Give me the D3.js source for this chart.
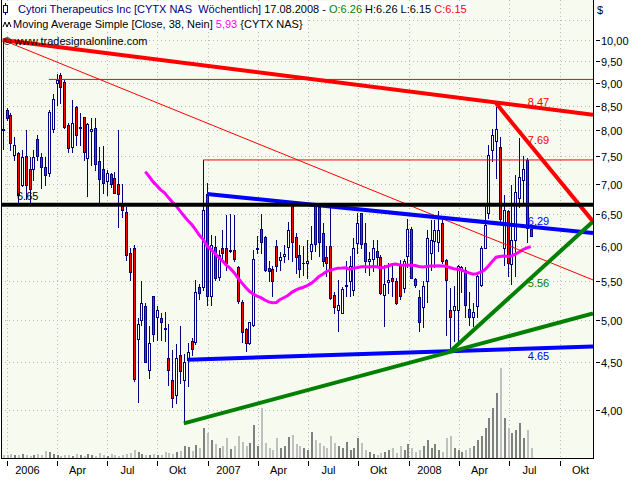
<!DOCTYPE html>
<html><head><meta charset="utf-8">
<script src="https://cdn.jsdelivr.net/npm/d3@7"></script>
<style>
body{margin:0;background:#fff}
svg{display:block}
text{font-family:"Liberation Sans",Arial,sans-serif;font-size:11px;white-space:pre}
</style>
</head><body>
<svg id="c" width="640" height="480"></svg>
<script>
// ---------------- data ----------------
const firstBarDate = "2005-12-24";   // weekly bars, one per week
const opens = [8.02,8.41,8.31,7.52,7.55,6.98,7.50,7.27,7.27,7.83,7.48,7.30,7.20,8.02,9.00,9.17,9.02,8.10,7.68,8.47,
8.05,8.26,7.47,7.98,8.04,7.41,7.27,7.05,7.18,7.10,7.00,6.65,6.53,5.90,5.98,4.77,5.00,5.17,4.42,5.31,
5.04,5.02,4.90,4.55,4.31,4.15,4.58,4.31,4.53,4.74,4.73,5.43,5.42,6.83,5.30,5.99,5.56,5.97,5.97,5.93,
5.95,5.70,5.23,4.89,4.72,4.94,5.96,6.26,6.14,5.69,5.67,6.00,5.80,5.85,5.99,6.66,6.14,5.87,5.75,5.75,
5.93,6.66,6.62,6.20,5.84,6.00,5.32,5.12,5.09,5.44,5.50,5.39,6.05,6.51,6.05,5.79,5.82,5.93,5.84,5.32,
5.49,5.55,5.50,5.73,5.41,5.85,6.26,5.53,5.29,5.16,5.51,5.90,6.08,6.06,6.36,5.80,5.12,5.12,5.12,5.66,
5.66,5.14,5.04,5.17,5.45,5.98,6.51,7.62,7.78,7.68,5.97,6.54,5.74,6.10,6.76,7.07,7.43,6.26];
const highs = [10.00,8.45,8.35,7.87,7.57,7.62,8.00,7.48,7.62,7.90,7.55,7.48,8.41,8.75,9.20,9.22,9.06,8.14,8.62,8.49,
8.35,8.27,8.14,8.24,8.24,7.68,7.69,7.25,7.20,7.21,8.00,7.00,6.61,5.98,6.02,5.02,5.50,5.22,4.92,5.31,
5.18,5.08,5.10,4.95,4.64,4.71,4.92,4.59,4.72,4.78,5.52,5.47,7.43,7.02,6.17,6.16,5.95,6.25,6.48,6.50,
6.48,5.71,5.25,4.90,4.97,5.95,6.16,6.50,6.16,5.79,5.72,6.09,5.91,6.02,6.37,6.66,6.20,6.02,6.00,6.10,
6.31,6.66,6.64,6.35,6.00,6.59,5.36,5.52,5.42,5.78,5.86,6.13,6.52,6.52,6.35,5.92,6.09,6.09,5.87,5.73,
5.75,5.75,5.55,5.80,5.82,6.42,6.30,5.55,5.39,5.51,6.25,6.40,6.40,6.55,6.40,5.82,5.41,5.44,5.73,5.72,
5.70,5.36,5.22,5.60,6.00,6.65,7.71,8.03,8.47,7.87,6.81,6.57,6.98,7.16,7.84,7.50,7.46,6.26];
const lows = [7.63,8.20,7.62,7.43,6.70,6.96,6.75,6.70,7.07,7.43,6.93,6.98,7.14,7.96,8.51,8.55,8.04,7.58,7.58,7.71,
7.71,7.43,6.79,7.34,7.25,6.68,6.85,6.81,6.95,6.84,6.30,6.45,5.80,5.52,4.30,4.08,4.94,4.50,4.33,4.74,
4.76,4.76,4.75,4.26,4.03,4.07,4.28,3.87,4.24,4.58,4.71,5.27,5.38,5.19,5.19,5.52,5.52,5.78,5.66,5.92,
5.78,5.22,4.73,4.63,4.71,4.92,5.90,5.90,5.64,5.50,5.31,5.64,5.66,5.77,5.82,5.79,5.62,5.56,5.59,5.55,
5.82,5.93,5.85,5.72,5.57,5.27,5.08,4.86,5.08,5.30,5.30,5.32,5.90,5.98,5.63,5.59,5.64,5.72,5.33,4.93,
5.35,5.30,5.20,5.27,5.36,5.70,5.54,5.42,4.86,4.91,5.23,5.66,5.70,5.93,5.75,4.82,4.64,4.75,4.74,5.36,
5.04,4.94,4.92,5.04,5.44,5.97,6.43,7.41,7.10,6.36,5.73,5.57,5.46,5.57,6.62,6.65,6.06,6.15];
const closes = [8.00,8.24,7.75,7.71,6.81,7.48,6.98,6.92,7.48,7.50,7.30,7.16,8.37,8.64,9.05,8.91,8.06,7.66,8.14,7.90,
8.06,7.58,8.12,8.02,7.36,7.09,7.02,7.20,7.00,6.85,6.83,6.57,5.87,5.63,4.32,4.95,5.22,4.51,4.72,4.83,
5.12,4.97,4.89,4.42,4.12,4.55,4.41,4.50,4.62,4.65,5.36,5.34,6.57,5.30,6.02,5.55,5.87,5.90,5.75,5.95,
5.82,5.24,4.85,4.72,4.97,5.82,5.97,6.06,5.66,5.64,5.50,5.71,5.84,5.89,6.24,6.07,5.84,5.67,5.76,5.78,
6.03,6.03,6.07,5.79,5.76,5.28,5.16,5.19,5.40,5.45,5.72,5.98,6.35,6.04,5.79,5.82,5.97,5.84,5.35,5.47,
5.52,5.50,5.21,5.31,5.79,6.26,5.55,5.45,4.97,5.44,6.12,6.10,6.24,6.24,5.78,5.52,5.04,5.17,5.71,5.70,
5.19,5.04,5.10,5.57,5.98,6.33,7.52,7.91,8.03,6.42,6.57,5.75,6.10,6.86,7.13,7.27,6.28,6.15];
const volumes = [30,30,40,30,30,40,30,20,30,40,30,70,60,40,30,20,30,30,20,40,
30,20,40,30,20,50,30,20,40,30,20,30,40,50,80,60,40,30,30,40,
30,30,60,50,40,60,70,120,110,70,130,100,300,250,180,140,100,120,200,90,
120,220,160,120,150,330,120,500,150,100,80,200,100,120,210,230,140,120,100,80,
260,180,150,120,100,220,150,120,100,160,80,100,200,150,80,60,40,30,50,60,
80,100,50,120,80,140,100,60,80,120,180,100,140,80,60,200,220,100,80,60,
80,100,120,180,220,300,400,500,650,900,400,300,250,280,350,200,280,100];

const priceTicks = [4,4.5,5,5.5,6,6.5,7,7.5,8,8.5,9,9.5,10];
const gridOnlyTicks = [10.5];
const timeTicks = ["2006-01-01","2006-04-01","2006-07-01","2006-10-01","2007-01-01","2007-04-01",
                   "2007-07-01","2007-10-01","2008-01-01","2008-04-01","2008-07-01","2008-10-01"];
const timeTickLabels = ["2006","Apr","Jul","Okt","2007","Apr","Jul","Okt","2008","Apr","Jul","Okt"];

// drawn lines: start bar (-1 = left edge), start value, end value at right edge
const lineStartBar   = [0,    0,    128,  53,   48,   47,   116,  12,   52,   -1];
const lineStartValue = [10.0, 10.0, 8.55, 6.83, 4.53, 3.87, 4.62, 9.07, 7.43, 6.65];
const lineEndValue   = [8.31, 5.52, 6.38, 6.20, 4.68, 5.08, 6.38, 9.07, 7.43, 6.65];
const lineKind       = ["redThick","redThin","redThick","blue","blue","green","green","redThin","redThin","black"];

const levelLabels = ["8.47","7.69","6.29","5.56","4.65"];
const levelValues = [8.47, 7.69, 6.29, 5.56, 4.65];
const levelKind   = ["red","red","blue","green","blue"];
const maPeriod = 38;

// ---------------- styles ----------------
const W = 640, H = 480;
const plotL = 1, plotR = 593, plotT = 0, plotB = 458;
const kindStyle = {
  redThick:{stroke:"#ff0000",width:4}, redThin:{stroke:"#ff0000",width:1},
  blue:{stroke:"#0000ff",width:4}, green:{stroke:"#008000",width:4}, black:{stroke:"#000000",width:4}
};
const labelColor = {red:"#ff0000", blue:"#0000ff", green:"#008000"};
const labelDy = [-1,-2,-2,10,11];

const svg = d3.select("#c");
const parse = d3.utcParse("%Y-%m-%d");
const d0 = parse(firstBarDate);
const dates = opens.map((_, i) => d3.utcDay.offset(d0, 7 * i));
const bars = dates.map((d, i) => ({d, o: opens[i], h: highs[i], l: lows[i], c: closes[i], v: volumes[i]}));

const x = d3.scaleUtc().domain([parse("2005-12-21"), parse("2008-11-30")]).range([plotL, plotR]);
const y = d3.scaleLog().domain([4, 10]).range([410, 40]);
const yv = d3.scaleLinear().domain([0, 1000]).range([plotB, plotB - 100]);

// background
svg.append("rect").attr("width", W).attr("height", H).attr("fill", "#ffffff");
svg.append("rect").attr("x", plotL).attr("y", plotT).attr("width", plotR - plotL).attr("height", plotB - plotT).attr("fill", "#f7fbef");

svg.append("clipPath").attr("id", "clip").append("rect")
  .attr("x", plotL).attr("y", plotT).attr("width", plotR - plotL).attr("height", plotB - plotT);
const g = svg.append("g").attr("clip-path", "url(#clip)");

// dotted grid
priceTicks.concat(gridOnlyTicks).forEach(t => {
  const yy = Math.round(y(t)) + 0.5;
  g.append("line").attr("x1", plotL).attr("x2", plotR).attr("y1", yy).attr("y2", yy)
    .attr("stroke", "#b8b8b8").attr("stroke-dasharray", "1,3");
});
timeTicks.forEach(t => {
  const xx = Math.round(x(parse(t))) + 0.5;
  g.append("line").attr("x1", xx).attr("x2", xx).attr("y1", plotT).attr("y2", plotB)
    .attr("stroke", "#b8b8b8").attr("stroke-dasharray", "1,3");
});

// volume
g.selectAll("rect.vol").data(bars).join("rect").attr("class", "vol")
  .attr("x", b => Math.round(x(b.d)))
  .attr("width", 2)
  .attr("y", b => Math.round(yv(b.v)))
  .attr("height", b => plotB - Math.round(yv(b.v)))
  .attr("fill", b => b.c >= b.o ? "#808080" : "#c0c0c0");

// candles
const cg = g.append("g");
bars.forEach(b => {
  const cx = Math.round(x(b.d));
  cg.append("line").attr("x1", cx + 0.5).attr("x2", cx + 0.5)
    .attr("y1", Math.round(y(b.h))).attr("y2", Math.round(y(b.l)) + 1)
    .attr("stroke", "#000080").attr("stroke-width", 1);
  const yt = Math.round(y(Math.max(b.o, b.c))), yb = Math.round(y(Math.min(b.o, b.c)));
  if (yb - yt < 1) {
    cg.append("line").attr("x1", cx - 1).attr("x2", cx + 2).attr("y1", yt + 0.5).attr("y2", yt + 0.5)
      .attr("stroke", "#000080");
  } else {
    cg.append("rect").attr("x", cx - 0.5).attr("y", yt + 0.5).attr("width", 2).attr("height", yb - yt)
      .attr("fill", b.c >= b.o ? "#ffffff" : "#ff0000").attr("stroke", "#000080").attr("stroke-width", 1);
  }
});

// moving average
const ma = bars.map((b, i) => i < maPeriod - 1 ? null : {d: b.d, v: d3.mean(closes.slice(i - maPeriod + 1, i + 1))}).filter(Boolean);
g.append("path").datum(ma)
  .attr("d", d3.line().x(p => x(p.d)).y(p => y(p.v)))
  .attr("fill", "none").attr("stroke", "#ff00ff").attr("stroke-width", 3);

// drawn lines
const xEnd = x.domain()[1];
lineStartBar.forEach((sb, k) => {
  const sd = sb < 0 ? x.domain()[0] : dates[sb];
  const st = kindStyle[lineKind[k]];
  g.append("line")
    .attr("x1", x(sd)).attr("y1", y(lineStartValue[k]))
    .attr("x2", x(xEnd)).attr("y2", y(lineEndValue[k]))
    .attr("stroke", st.stroke).attr("stroke-width", st.width);
});

// level labels
const lastX = x(dates[dates.length - 1]);
levelLabels.forEach((t, k) => {
  g.append("text").attr("x", lastX - 3).attr("y", y(levelValues[k]) + labelDy[k])
    .attr("fill", labelColor[levelKind[k]]).text(t);
});
g.append("text").attr("x", 17).attr("y", y(6.65) - 5).attr("fill", "#000").text("6.65");

// header
const hdr = svg.append("g");
const r1 = hdr.append("rect").attr("fill", "#ffffff");
const r2 = hdr.append("rect").attr("fill", "#ffffff");
const t1 = hdr.append("text").attr("x", 18).attr("y", 13);
t1.append("tspan").attr("fill", "#000080").text("Cytori Therapeutics Inc [CYTX NAS  Wöchentlich]");
t1.append("tspan").attr("fill", "#000000").text(" 17.08.2008 - ");
t1.append("tspan").attr("fill", "#008000").text("O:6.26");
t1.append("tspan").attr("fill", "#000000").text(" H:6.26 L:6.15 ");
t1.append("tspan").attr("fill", "#ff0000").text("C:6.15");
const t2 = hdr.append("text").attr("x", 13).attr("y", 28);
t2.append("tspan").attr("fill", "#000").text("Moving Average Simple [Close, 38, Nein] ");
t2.append("tspan").attr("fill", "#ff00ff").text("5,93");
t2.append("tspan").attr("fill", "#000").text(" {CYTX NAS}");
const b1 = t1.node().getBBox(), b2 = t2.node().getBBox();
r1.attr("x", plotL + 1).attr("y", 1).attr("width", b1.x + b1.width + 2).attr("height", 15);
r2.attr("x", plotL + 1).attr("y", 16).attr("width", b2.x + b2.width + 2).attr("height", 15);
// icons
hdr.append("line").attr("x1", 5.5).attr("x2", 5.5).attr("y1", 3).attr("y2", 15).attr("stroke", "#000080");
hdr.append("rect").attr("x", 3.5).attr("y", 5.5).attr("width", 4).attr("height", 7).attr("fill", "#fff").attr("stroke", "#000080");
hdr.append("path").attr("d", "M3,27 L5,22 L7,27 L9,22 L11,27").attr("fill", "none").attr("stroke", "#000").attr("stroke-width", 1);
hdr.append("text").attr("x", 3).attr("y", 45).attr("fill", "#000").text("© www.tradesignalonline.com");

// borders
svg.append("line").attr("x1", plotL + 0.5).attr("x2", plotL + 0.5).attr("y1", 0).attr("y2", plotB).attr("stroke", "#000");
svg.append("line").attr("x1", plotR + 0.5).attr("x2", plotR + 0.5).attr("y1", 0).attr("y2", plotB + 1).attr("stroke", "#000");
svg.append("line").attr("x1", plotL).attr("x2", plotR).attr("y1", plotB + 0.5).attr("y2", plotB + 0.5).attr("stroke", "#000");

// right axis
const ax = svg.append("g");
priceTicks.forEach(t => {
  const yy = Math.round(y(t)) + 0.5;
  ax.append("line").attr("x1", plotR + 3).attr("x2", plotR + 7).attr("y1", yy).attr("y2", yy).attr("stroke", "#000");
  ax.append("text").attr("x", plotR + 8).attr("y", yy + 4).attr("fill", "#000").text(d3.format(".2f")(t).replace(".", ","));
});
ax.append("text").attr("x", plotR + 4).attr("y", 14).attr("fill", "#000").text("$");

// bottom axis
timeTicks.forEach((t, k) => {
  const xx = Math.round(x(parse(t))) + 0.5;
  ax.append("line").attr("x1", xx).attr("x2", xx).attr("y1", plotB + 3).attr("y2", plotB + 8).attr("stroke", "#000");
  ax.append("text").attr("x", xx + 20).attr("y", plotB + 16).attr("text-anchor", "middle").attr("fill", "#000").text(timeTickLabels[k]);
});
</script>
</body></html>
